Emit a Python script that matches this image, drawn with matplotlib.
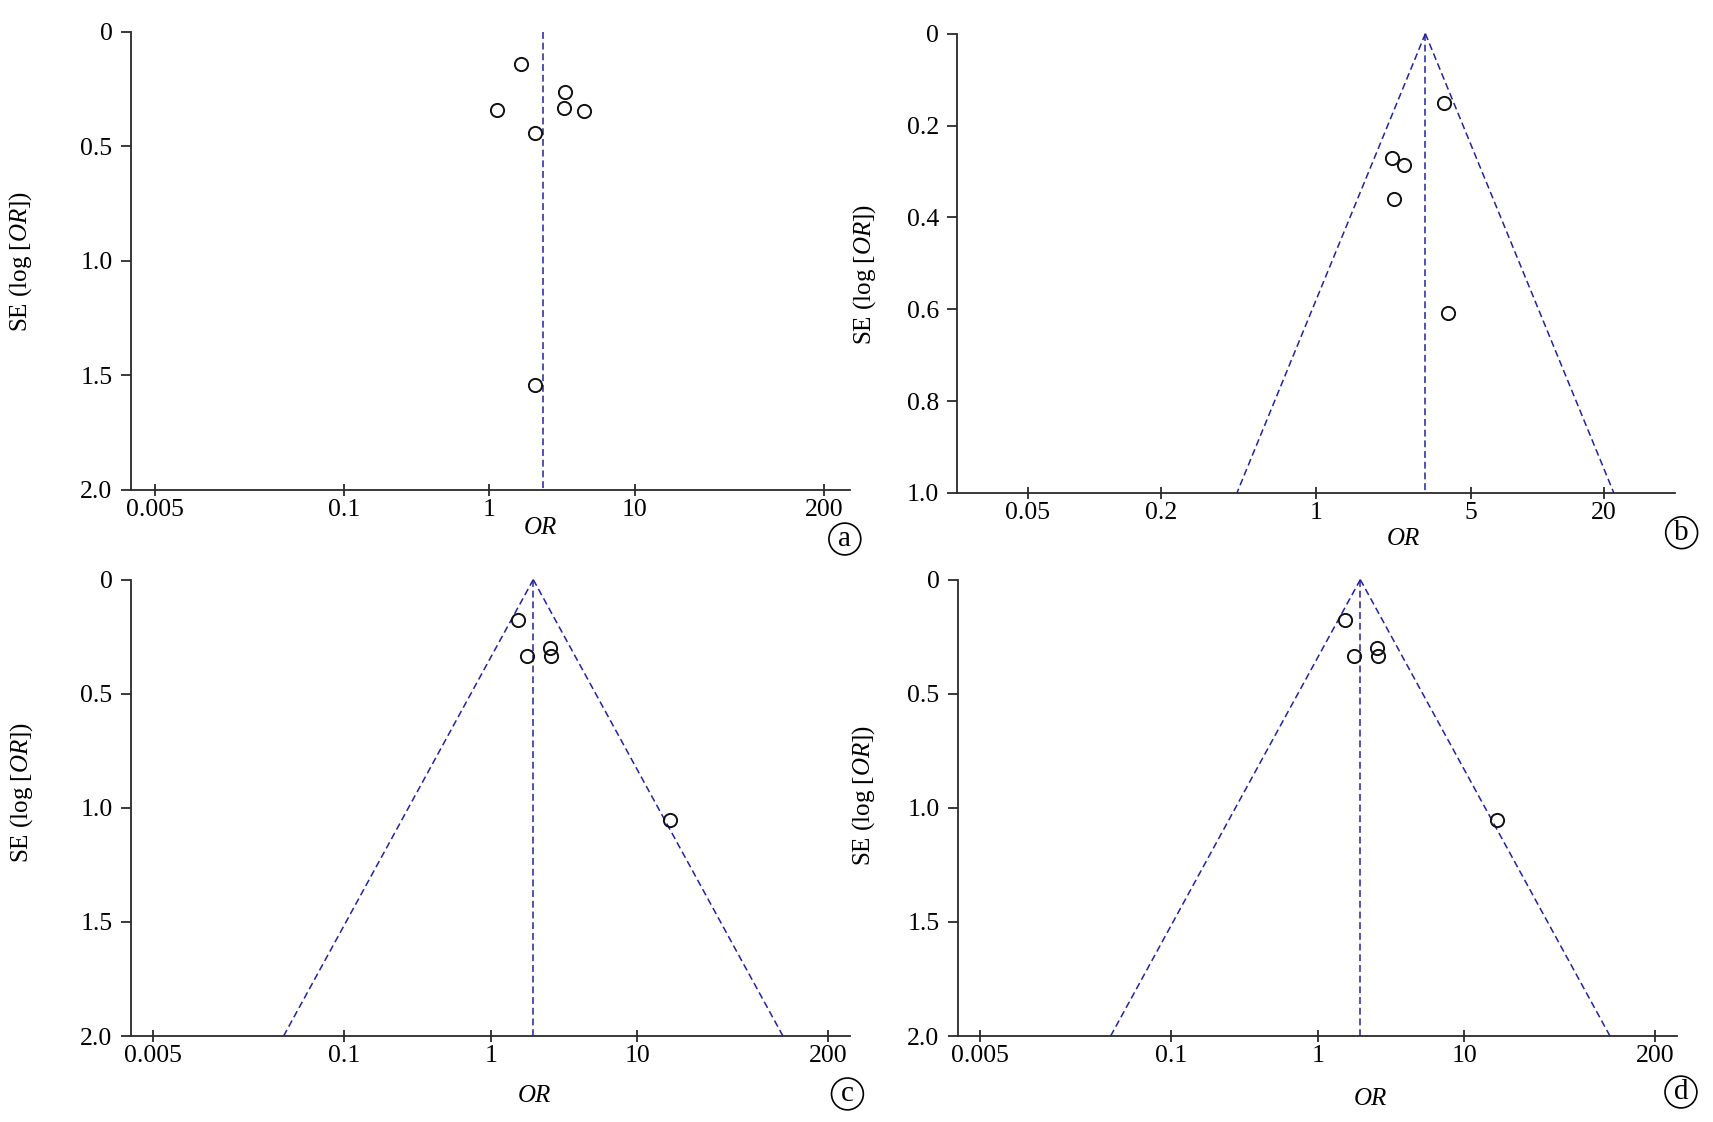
import numpy as np
import matplotlib
matplotlib.use("Agg")
import matplotlib.pyplot as plt

plt.rcParams['font.family'] = ['Liberation Serif', 'DejaVu Serif']
plt.rcParams['mathtext.fontset'] = 'custom'
plt.rcParams['mathtext.it'] = 'Liberation Serif:italic'
plt.rcParams['mathtext.rm'] = 'Liberation Serif'

# ---- data ----
a_or = [1.64, 3.32, 1.13, 3.23, 4.50, 2.06, 2.06]
a_se = [0.140, 0.262, 0.339, 0.332, 0.346, 0.443, 1.540]
a_pooled = 2.34

b_or = [3.77, 2.21, 2.49, 2.26, 3.94]
b_se = [0.152, 0.271, 0.286, 0.360, 0.609]
b_pooled = 3.12

c_or = [1.53, 2.54, 1.77, 2.59, 16.6]
c_se = [0.177, 0.300, 0.336, 0.336, 1.053]
c_pooled = 1.95

d_or = [1.54, 2.53, 1.78, 2.57, 16.7]
d_se = [0.177, 0.300, 0.336, 0.336, 1.053]
d_pooled = 1.95

x_ticks_acd = [0.005, 0.1, 1, 10, 200]
x_ticklabels_acd = ['0.005', '0.1', '1', '10', '200']
y_ticks_acd = [0, 0.5, 1.0, 1.5, 2.0]
y_ticklabels_acd = ['0', '0.5', '1.0', '1.5', '2.0']

x_ticks_b = [0.05, 0.2, 1, 5, 20]
x_ticklabels_b = ['0.05', '0.2', '1', '5', '20']
y_ticks_b = [0, 0.2, 0.4, 0.6, 0.8, 1.0]
y_ticklabels_b = ['0', '0.2', '0.4', '0.6', '0.8', '1.0']

panel_letters = ['a', 'b', 'c', 'd']

W, H = 1713, 1122
fig = plt.figure(figsize=(W / 100, H / 100), dpi=100)

BLUE = '#23239a'
SPINE = '#2a2a2a'
FS = 18.5

def setup(ax, xlim, ymax, xt, xtl, yt, ytl):
    ax.set_xscale('log')
    ax.set_xlim(*xlim)
    ax.set_ylim(ymax, 0)
    ax.set_xticks(xt)
    ax.set_xticklabels(xtl)
    ax.xaxis.set_minor_locator(matplotlib.ticker.NullLocator())
    ax.set_yticks(yt)
    ax.set_yticklabels(ytl)
    for s in ['top', 'right']:
        ax.spines[s].set_visible(False)
    for s in ['left', 'bottom']:
        ax.spines[s].set_color(SPINE)
        ax.spines[s].set_linewidth(1.3)
    ax.tick_params(axis='x', direction='inout', length=9, width=1.3,
                   color=SPINE, labelsize=FS, pad=2)
    ax.tick_params(axis='y', direction='out', length=7, width=1.3,
                   color=SPINE, labelsize=FS, pad=6)
    ax.patch.set_alpha(0)

def draw(ax, ors, ses, pooled, ymax, funnel=True):
    dash = (0, (4.5, 2.5))
    ax.plot([pooled, pooled], [0, ymax], color=BLUE, lw=1.1, linestyle=dash,
            clip_on=False)
    if funnel:
        se_line = np.array([0.0, ymax])
        lo = np.exp(np.log(pooled) - 1.96 * se_line)
        hi = np.exp(np.log(pooled) + 1.96 * se_line)
        ax.plot(lo, se_line, color=BLUE, lw=1.1, linestyle=dash, clip_on=False)
        ax.plot(hi, se_line, color=BLUE, lw=1.1, linestyle=dash, clip_on=False)
    ax.plot(ors, ses, linestyle='none', marker='o', markersize=9.5,
            markerfacecolor='none', markeredgecolor='#111111',
            markeredgewidth=1.4, clip_on=False)

# axes rectangles (figure fraction)
ax_a = fig.add_axes([0.0762, 0.5633, 0.4198, 0.4082])
ax_b = fig.add_axes([0.5589, 0.5607, 0.4191, 0.4093])
ax_c = fig.add_axes([0.0762, 0.0766, 0.4198, 0.4068])
ax_d = fig.add_axes([0.5590, 0.0766, 0.4198, 0.4068])

setup(ax_a, (0.0034, 300), 2.0, x_ticks_acd, x_ticklabels_acd, y_ticks_acd, y_ticklabels_acd)
draw(ax_a, a_or, a_se, a_pooled, 2.0, funnel=False)

setup(ax_b, (0.024, 42), 1.0, x_ticks_b, x_ticklabels_b, y_ticks_b, y_ticklabels_b)
draw(ax_b, b_or, b_se, b_pooled, 1.0)

setup(ax_c, (0.0035, 280), 2.0, x_ticks_acd, x_ticklabels_acd, y_ticks_acd, y_ticklabels_acd)
draw(ax_c, c_or, c_se, c_pooled, 2.0)

setup(ax_d, (0.0035, 280), 2.0, x_ticks_acd, x_ticklabels_acd, y_ticks_acd, y_ticklabels_acd)
draw(ax_d, d_or, d_se, d_pooled, 2.0)

ylab = r'SE (log [$\mathit{OR}$])'
ylab_pos = [(0.0122, 0.767), (0.505, 0.755), (0.0128, 0.294), (0.504, 0.291)]
for (x, y) in ylab_pos:
    fig.text(x, y, ylab, rotation=90, ha='center', va='center', fontsize=18)

or_pos = [(0.3154, 0.529), (0.819, 0.5196), (0.3122, 0.0234), (0.7998, 0.0205)]
for (x, y) in or_pos:
    fig.text(x, y, 'OR', style='italic', ha='center', va='center', fontsize=18)

letter_pos = [(0.4932, 0.5196), (0.9817, 0.5252), (0.4947, 0.025), (0.9813, 0.0267)]
for (x, y), l in zip(letter_pos, panel_letters):
    fig.text(x, y, l, ha='center', va='center', fontsize=21,
             bbox=dict(boxstyle='circle,pad=0.1', fc='none', ec='black', lw=1.2))

fig.savefig('out.png', dpi=100)
